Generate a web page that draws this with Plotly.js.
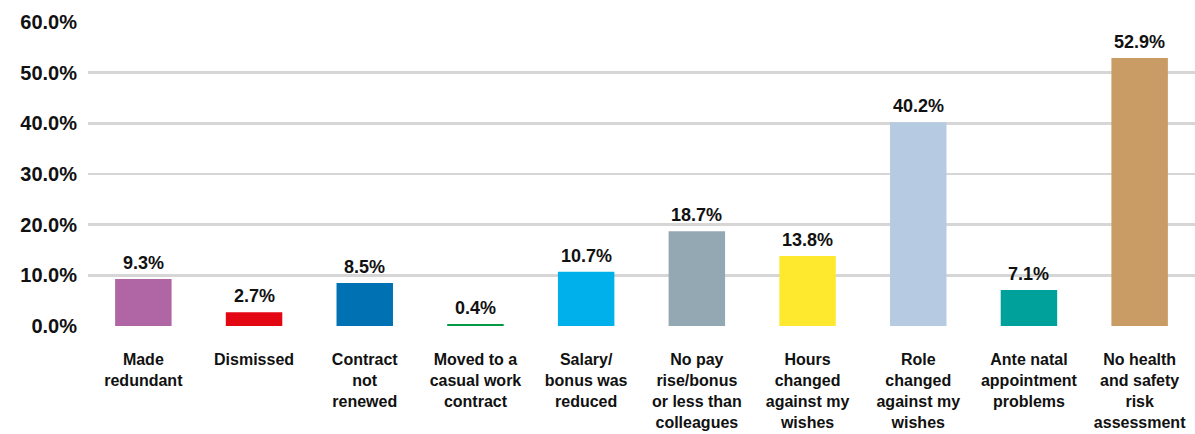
<!DOCTYPE html>
<html>
<head>
<meta charset="utf-8">
<script src="https://cdn.plot.ly/plotly-3.0.1.min.js"></script>
<style>html,body{margin:0;padding:0;background:#fff;}#chart{width:1195px;height:434px;}</style>
</head>
<body>
<div id="chart"></div>
<script>
const categories = [
  "Made<br>redundant",
  "Dismissed",
  "Contract<br>not<br>renewed",
  "Moved to a<br>casual work<br>contract",
  "Salary/<br>bonus was<br>reduced",
  "No pay<br>rise/bonus<br>or less than<br>colleagues",
  "Hours<br>changed<br>against my<br>wishes",
  "Role<br>changed<br>against my<br>wishes",
  "Ante natal<br>appointment<br>problems",
  "No health<br>and safety<br>risk<br>assessment"
];
const values = [9.3, 2.7, 8.5, 0.4, 10.7, 18.7, 13.8, 40.2, 7.1, 52.9];
const barColors = ["#B065A4", "#E30613", "#0072B4", "#009A44", "#00B0EB", "#94A8B4", "#FFE92E", "#B6CBE2", "#00A19A", "#C99C66"];
const yTickVals = [0, 10, 20, 30, 40, 50, 60];
const yTickText = ["0.0%", "10.0%", "20.0%", "30.0%", "40.0%", "50.0%", "60.0%"];

const trace = {
  type: "bar",
  x: categories,
  y: values,
  marker: {color: barColors},
  hoverinfo: "none"
};

const labelAnnotations = categories.map((c, i) => ({
  x: c,
  y: values[i],
  xref: "x",
  yref: "y",
  text: values[i].toFixed(1) + "%",
  showarrow: false,
  yanchor: "bottom",
  yshift: 4,
  font: {family: "Liberation Sans, Arial, sans-serif", size: 18, color: "#111111", weight: "bold"}
}));

const layout = {
  width: 1195,
  height: 434,
  margin: {l: 88, r: 0, t: 22, b: 108},
  paper_bgcolor: "#ffffff",
  plot_bgcolor: "#ffffff",
  bargap: 0.49,
  showlegend: false,
  annotations: labelAnnotations,
  xaxis: {
    type: "category",
    tickangle: 0,
    showgrid: false,
    zeroline: false,
    showline: false,
    ticks: "outside",
    ticklen: 19,
    tickcolor: "rgba(0,0,0,0)",
    tickfont: {family: "Liberation Sans, Arial, sans-serif", size: 16, color: "#111111", weight: "bold"},
    automargin: false
  },
  yaxis: {
    range: [0, 60],
    tickvals: yTickVals,
    ticktext: yTickText,
    showgrid: true,
    gridcolor: "#d6d6d6",
    gridwidth: 2.5,
    zeroline: false,
    showline: false,
    ticks: "",
    ticklabelstandoff: 10,
    tickfont: {family: "Liberation Sans, Arial, sans-serif", size: 20, color: "#111111", weight: "bold"},
    automargin: false
  }
};

Plotly.newPlot("chart", [trace], layout, {displayModeBar: false, staticPlot: true});
</script>
</body>
</html>
